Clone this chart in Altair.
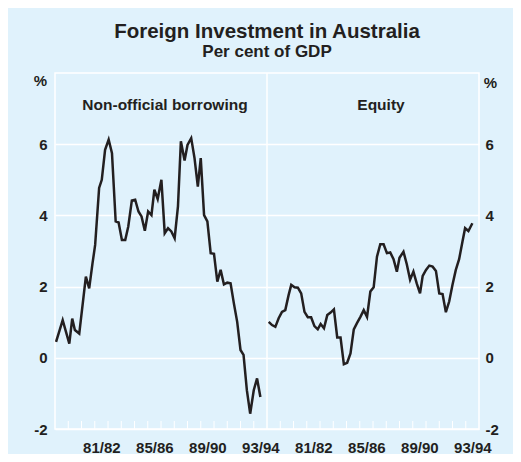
import altair as alt
import pandas as pd

# ---- data (fiscal-year time units: 0 = start of 1978/79, one panel = 16 years) ----
borrow_t = [0.08, 0.58, 1.08, 1.30, 1.50, 1.83, 2.33, 2.58, 2.83, 3.03, 3.33, 3.53, 3.78, 4.05, 4.30,
            4.58, 4.80, 5.05, 5.30, 5.53, 5.80, 6.05, 6.30, 6.53, 6.78, 7.03, 7.28, 7.50, 7.75, 8.03,
            8.28, 8.53, 8.78, 9.03, 9.28, 9.50, 9.78, 10.00, 10.28, 10.53, 10.78, 11.00, 11.25, 11.50,
            11.75, 12.00, 12.25, 12.50, 12.75, 13.00, 13.25, 13.50, 13.75, 14.00, 14.23, 14.48, 14.73,
            15.00, 15.25, 15.50]
borrow_v = [0.45, 1.06, 0.40, 1.10, 0.78, 0.68, 2.28, 1.95, 2.65, 3.17, 4.77, 5.00, 5.84, 6.13, 5.75,
            3.83, 3.80, 3.31, 3.31, 3.69, 4.42, 4.44, 4.11, 3.97, 3.57, 4.11, 4.01, 4.72, 4.46, 5.00,
            3.50, 3.64, 3.55, 3.36, 4.25, 6.08, 5.54, 5.98, 6.17, 5.61, 4.81, 5.61, 4.01, 3.83,
            2.94, 2.92, 2.14, 2.47, 2.06, 2.11, 2.09, 1.53, 1.01, 0.22, 0.08, -0.91, -1.57,
            -0.91, -0.58, -1.10]

equity_t = [0.13, 0.38, 0.63, 0.88, 1.13, 1.38, 1.63, 1.83, 2.08, 2.33, 2.58, 2.83, 3.08, 3.33, 3.58,
            3.83, 4.05, 4.30, 4.55, 4.80, 5.05, 5.30, 5.55, 5.80, 6.05, 6.30, 6.55, 6.80, 7.05, 7.30,
            7.55, 7.80, 8.05, 8.30, 8.55, 8.80, 9.05, 9.30, 9.55, 9.80, 10.00, 10.30, 10.55, 10.80,
            11.05, 11.30, 11.55, 11.75, 12.00, 12.25, 12.50, 12.75, 13.00, 13.25, 13.50, 13.75, 14.00,
            14.25, 14.50, 14.75, 14.95, 15.20, 15.50]
equity_v = [1.01, 0.92, 0.87, 1.11, 1.29, 1.34, 1.76, 2.05, 1.98, 1.97, 1.81, 1.29, 1.14, 1.14, 0.89,
            0.80, 0.95, 0.83, 1.20, 1.27, 1.36, 0.57, 0.57, -0.18, -0.14, 0.12, 0.80, 0.98, 1.15, 1.34,
            1.15, 1.86, 1.98, 2.84, 3.19, 3.19, 2.94, 2.96, 2.77, 2.42, 2.81, 2.98, 2.63, 2.19,
            2.42, 2.09, 1.81, 2.30, 2.47, 2.59, 2.56, 2.44, 1.81, 1.79, 1.28, 1.58, 2.05,
            2.47, 2.77, 3.26, 3.64, 3.56, 3.78]

panel_names = ["Non-official borrowing", "Equity"]
panel_years = 16
year_ticks = [1, 2, 3, 4, 5, 6, 7, 8, 9, 10, 11, 12, 13, 14, 15,
              17, 18, 19, 20, 21, 22, 23, 24, 25, 26, 27, 28, 29, 30, 31]
panel_edges = [16]
label_pos = [3.5, 7.5, 11.5, 15.5, 19.5, 23.5, 27.5, 31.5]
label_text = ["81/82", "85/86", "89/90", "93/94", "81/82", "85/86", "89/90", "93/94"]
y_ticks = [-2, 0, 2, 4, 6]

FONT = "Liberation Sans, Arial, Helvetica, sans-serif"
INK = "#231f20"
BG = "#e0f2fc"

W, H = 424, 356

borrow_df = pd.DataFrame({"x": borrow_t, "v": borrow_v, "series": panel_names[0]})
equity_df = pd.DataFrame({"x": [t + panel_years for t in equity_t], "v": equity_v,
                          "series": panel_names[1]})

label_expr = " : ".join(
    f"datum.value == {p} ? '{t}'" for p, t in zip(label_pos, label_text)
) + " : ''"

x_scale = alt.Scale(domain=[0, 2 * panel_years], nice=False, zero=False)
y_scale = alt.Scale(domain=[-2, 8], nice=False, zero=False)

x_axis = alt.Axis(values=label_pos, labelExpr=label_expr, title=None, grid=False,
                  ticks=False, domain=False, labelPadding=11, labelFontSize=15)

left_axis = alt.Axis(values=y_ticks, labelExpr="toString(datum.value)", title="%",
                     titleAngle=0, titleX=-15, titleY=7,
                     titleAlign="center", titleBaseline="middle", grid=True,
                     ticks=False, domain=False, labelPadding=8, orient="left")
right_axis = alt.Axis(values=y_ticks, labelExpr="toString(datum.value)", title="%",
                      titleAngle=0, titleX=11, titleY=9,
                      titleAlign="center", titleBaseline="middle", grid=False,
                      ticks=False, domain=False, labelPadding=6, orient="right")

line_borrow = alt.Chart(borrow_df).mark_line(color=INK, strokeWidth=2.5).encode(
    x=alt.X("x:Q", scale=x_scale, axis=x_axis),
    y=alt.Y("v:Q", scale=y_scale, axis=left_axis),
)
line_equity = alt.Chart(equity_df).mark_line(color=INK, strokeWidth=2.5).encode(
    x=alt.X("x:Q", scale=x_scale, axis=x_axis),
    y=alt.Y("v:Q", scale=y_scale, axis=right_axis),
)

divider = alt.Chart(pd.DataFrame({"x": panel_edges})).mark_rule(
    color="white", strokeWidth=1.5
).encode(x=alt.X("x:Q", scale=x_scale), y=alt.value(0), y2=alt.value(H))

ticks = alt.Chart(pd.DataFrame({"x": year_ticks})).mark_rule(
    color="white", strokeWidth=1
).encode(x=alt.X("x:Q", scale=x_scale), y=alt.value(H), y2=alt.value(H - 8))

lbl_left = alt.Chart(pd.DataFrame({"t": [panel_names[0]]})).mark_text(
    font=FONT, fontWeight="bold", fontSize=15.5, color=INK, baseline="middle"
).encode(text="t:N", x=alt.value(110), y=alt.value(32))
lbl_right = alt.Chart(pd.DataFrame({"t": [panel_names[1]]})).mark_text(
    font=FONT, fontWeight="bold", fontSize=15.5, color=INK, baseline="middle"
).encode(text="t:N", x=alt.value(326), y=alt.value(32))

chart = alt.layer(divider, ticks, line_borrow, line_equity, lbl_left, lbl_right).resolve_axis(
    y="independent"
).properties(
    width=W, height=H,
    autosize=alt.AutoSizeParams(type="none"),
    padding={"left": 47, "top": 65, "right": 34, "bottom": 25},
    background=BG,
    title=alt.TitleParams(
        text="Foreign Investment in Australia", subtitle="Per cent of GDP",
        anchor="middle", frame="group", font=FONT, subtitleFont=FONT,
        fontSize=20.5, subtitleFontSize=17, fontWeight="bold", subtitleFontWeight="bold",
        color=INK, subtitleColor=INK, offset=12, subtitlePadding=2,
    ),
).configure_view(
    stroke="white", strokeWidth=1.5
).configure_axis(
    labelFont=FONT, labelFontWeight="bold", labelFontSize=15, labelColor=INK,
    titleFont=FONT, titleFontWeight="bold", titleFontSize=15, titleColor=INK,
    gridColor="white", gridWidth=1.5, gridOpacity=1,
)

chart.save("out.html", embed_options={"renderer": "svg", "actions": False})
